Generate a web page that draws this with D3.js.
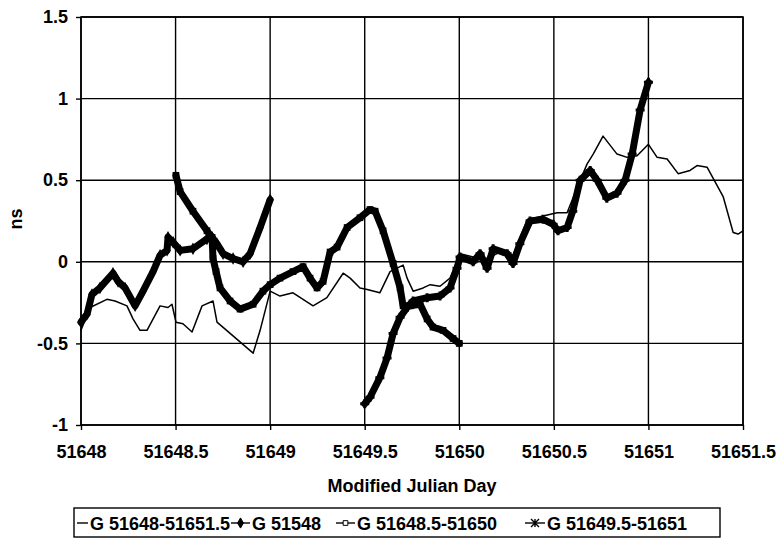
<!DOCTYPE html>
<html>
<head>
<meta charset="utf-8">
<script src="https://cdn.jsdelivr.net/npm/d3@7"></script>
<style>
  html, body { margin: 0; padding: 0; background: #fff; }
  svg { display: block; }
  text { font-family: "Liberation Sans", Arial, sans-serif; font-weight: bold; fill: #000; }
</style>
</head>
<body>
<svg id="chart" width="779" height="538"></svg>
<script>
// ---------------- data ----------------
const xTicks = [51648, 51648.5, 51649, 51649.5, 51650, 51650.5, 51651, 51651.5];
const yTicks = [-1, -0.5, 0, 0.5, 1, 1.5];
const xTickLabels = ["51648", "51648.5", "51649", "51649.5", "51650", "51650.5", "51651", "51651.5"];
const yTickLabels = ["-1", "-0.5", "0", "0.5", "1", "1.5"];
const seriesNames = ["G 51648-51651.5", "G 51548", "G 51648.5-51650", "G 51649.5-51651"];

// G 51648-51651.5 (thin line)
const s1Day = [51648.000, 51648.048, 51648.137, 51648.180, 51648.243, 51648.275, 51648.312, 51648.349, 51648.418, 51648.460,
  51648.481, 51648.502, 51648.539, 51648.587, 51648.640, 51648.698, 51648.719, 51648.910, 51648.947, 51649.000,
  51649.052, 51649.121, 51649.227, 51649.300, 51649.386, 51649.423, 51649.475, 51649.513, 51649.580, 51649.634,
  51649.703, 51649.724, 51649.756, 51649.809, 51649.846, 51649.898, 51649.951, 51650.004, 51650.073, 51650.147,
  51650.216, 51650.284, 51650.360, 51650.443, 51650.517, 51650.570, 51650.639, 51650.676, 51650.708, 51650.760,
  51650.834, 51650.887, 51650.940, 51651.000, 51651.046, 51651.099, 51651.157, 51651.220, 51651.257, 51651.310,
  51651.395, 51651.448, 51651.474, 51651.500];
const s1Ns = [-0.42, -0.28, -0.23, -0.24, -0.27, -0.35, -0.42, -0.42, -0.27, -0.28,
  -0.26, -0.37, -0.38, -0.43, -0.27, -0.24, -0.37, -0.56, -0.42, -0.18,
  -0.21, -0.19, -0.27, -0.22, -0.07, -0.10, -0.16, -0.17, -0.19, -0.06,
  -0.02, -0.10, -0.18, -0.16, -0.14, -0.15, -0.10, 0.05, 0.03, 0.02,
  0.06, 0.04, 0.26, 0.28, 0.30, 0.30, 0.50, 0.60, 0.66, 0.77,
  0.66, 0.64, 0.65, 0.72, 0.64, 0.63, 0.54, 0.56, 0.59, 0.58,
  0.40, 0.18, 0.17, 0.19];

// G 51548 (filled diamonds)
const s2Day = [51648.000, 51648.032, 51648.058, 51648.100, 51648.169, 51648.196, 51648.233, 51648.286, 51648.328, 51648.381,
  51648.418, 51648.455, 51648.460, 51648.487, 51648.524, 51648.592, 51648.666, 51648.693, 51648.719, 51648.751,
  51648.804, 51648.857, 51648.894, 51648.947, 51649.000];
const s2Ns = [-0.37, -0.32, -0.20, -0.16, -0.07, -0.12, -0.16, -0.27, -0.18, -0.06,
  0.04, 0.07, 0.15, 0.12, 0.07, 0.08, 0.14, 0.15, 0.11, 0.05,
  0.02, 0.00, 0.05, 0.21, 0.38];

// G 51648.5-51650 (open squares)
const s3Day = [51648.502, 51648.524, 51648.592, 51648.666, 51648.693, 51648.698, 51648.714, 51648.735, 51648.788, 51648.841,
  51648.910, 51648.962, 51649.000, 51649.052, 51649.121, 51649.174, 51649.211, 51649.248, 51649.280, 51649.317,
  51649.354, 51649.407, 51649.475, 51649.528, 51649.555, 51649.597, 51649.650, 51649.687, 51649.703, 51649.740,
  51649.793, 51649.830, 51649.861, 51649.914, 51649.967, 51650.000];
const s3Ns = [0.53, 0.43, 0.31, 0.19, 0.15, 0.02, -0.06, -0.16, -0.24, -0.29,
  -0.26, -0.18, -0.14, -0.10, -0.06, -0.03, -0.10, -0.16, -0.12, 0.06,
  0.09, 0.21, 0.27, 0.32, 0.31, 0.19, -0.01, -0.16, -0.27, -0.27,
  -0.26, -0.35, -0.40, -0.42, -0.47, -0.50];

// G 51649.5-51651 (stars)
const s4Day = [51649.500, 51649.528, 51649.580, 51649.618, 51649.650, 51649.687, 51649.724, 51649.756, 51649.830, 51649.898,
  51649.951, 51649.988, 51650.004, 51650.073, 51650.110, 51650.147, 51650.179, 51650.253, 51650.284, 51650.320,
  51650.374, 51650.443, 51650.496, 51650.522, 51650.570, 51650.600, 51650.639, 51650.692, 51650.729, 51650.780,
  51650.834, 51650.877, 51650.914, 51650.956, 51651.000];
const s4Ns = [-0.87, -0.83, -0.71, -0.59, -0.44, -0.34, -0.28, -0.24, -0.22, -0.21,
  -0.16, -0.04, 0.03, 0.00, 0.05, -0.04, 0.08, 0.05, -0.01, 0.11,
  0.25, 0.26, 0.23, 0.19, 0.21, 0.31, 0.50, 0.56, 0.50, 0.39,
  0.42, 0.50, 0.66, 0.93, 1.10];

// ---------------- chart ----------------
const svg = d3.select("#chart");
const L = 81, R = 743, T = 17, B = 425;
const x = d3.scaleLinear().domain([51648, 51651.5]).range([L, R]);
const y = d3.scaleLinear().domain([-1, 1.5]).range([B, T]);

svg.append("rect").attr("width", 779).attr("height", 538).attr("fill", "#fff");

// gridlines
const grid = svg.append("g").attr("stroke", "#000").attr("stroke-width", 1.4);
grid.selectAll("line.h").data(yTicks).join("line")
  .attr("x1", L).attr("x2", R).attr("y1", d => y(d)).attr("y2", d => y(d));
grid.selectAll("line.v").data(xTicks).join("line")
  .attr("y1", T).attr("y2", B).attr("x1", d => x(d)).attr("x2", d => x(d));

// series
const series = [
  { day: s1Day, ns: s1Ns, width: 1.5, sym: null },
  { day: s2Day, ns: s2Ns, width: 7, sym: d3.symbolDiamond },
  { day: s3Day, ns: s3Ns, width: 7, sym: d3.symbolSquare },
  { day: s4Day, ns: s4Ns, width: 7, sym: d3.symbolCross }
];
const line = d3.line().x(d => x(d[0])).y(d => y(d[1]));
series.forEach(s => {
  const pts = s.day.map((d, i) => [d, s.ns[i]]);
  svg.append("path").datum(pts)
    .attr("fill", "none").attr("stroke", "#000")
    .attr("stroke-width", s.width)
    .attr("stroke-linejoin", "round").attr("stroke-linecap", "round")
    .attr("d", line);
  if (s.sym) {
    svg.append("g").selectAll("path").data(pts).join("path")
      .attr("transform", d => `translate(${x(d[0])},${y(d[1])})`)
      .attr("d", d3.symbol().type(s.sym).size(45))
      .attr("fill", "#000");
  }
});

// plot border
svg.append("rect").attr("x", L).attr("y", T).attr("width", R - L).attr("height", B - T)
  .attr("fill", "none").attr("stroke", "#000").attr("stroke-width", 1.6);

// axes
const xAxis = d3.axisBottom(x).tickValues(xTicks).tickFormat((d, i) => xTickLabels[i])
  .tickSize(5).tickPadding(15);
const gx = svg.append("g").attr("transform", `translate(0,${B})`).call(xAxis);
const yAxis = d3.axisLeft(y).tickValues(yTicks).tickFormat((d, i) => yTickLabels[i])
  .tickSize(5).tickPadding(8);
const gy = svg.append("g").attr("transform", `translate(${L},0)`).call(yAxis);
[gx, gy].forEach(g => {
  g.select(".domain").remove();
  g.selectAll(".tick line").attr("stroke", "#000").attr("stroke-width", 1.4);
  g.selectAll(".tick text").style("font-family", '"Liberation Sans", Arial, sans-serif')
    .style("font-weight", "bold").style("font-size", "18px").attr("fill", "#000");
});

// axis titles
svg.append("text").attr("x", (L + R) / 2).attr("y", 492).attr("text-anchor", "middle")
  .style("font-size", "18px").text("Modified Julian Day");
svg.append("text").attr("transform", "translate(22,219) rotate(-90)").attr("text-anchor", "middle")
  .style("font-size", "18px").text("ns");

// legend
const lg = svg.append("g");
lg.append("rect").attr("x", 74).attr("y", 508).attr("width", 646).attr("height", 29)
  .attr("fill", "#fff").attr("stroke", "#000").attr("stroke-width", 1.4);
const legendItems = [
  { x0: 77, x1: 88, sym: null, fill: "#000" },
  { x0: 231, x1: 250, sym: d3.symbolDiamond, fill: "#000" },
  { x0: 336, x1: 355, sym: d3.symbolSquare, fill: "#fff" },
  { x0: 525, x1: 545, sym: d3.symbolCross, fill: "#000" }
];
const ly = 523;
legendItems.forEach((it, i) => {
  lg.append("line").attr("x1", it.x0).attr("x2", it.x1).attr("y1", ly).attr("y2", ly)
    .attr("stroke", "#000").attr("stroke-width", 1.4);
  if (it.sym) {
    const m = lg.append("path").attr("transform", `translate(${(it.x0 + it.x1) / 2},${ly})`);
    if (i === 3) {
      m.attr("d", "M-4,-4L4,4M-4,4L4,-4M0,-4L0,4").attr("stroke", "#000").attr("stroke-width", 1.4).attr("fill", "none");
    } else {
      m.attr("d", d3.symbol().type(it.sym).size(i === 1 ? 30 : 22))
        .attr("fill", it.fill).attr("stroke", "#000").attr("stroke-width", 1);
    }
  }
  lg.append("text").attr("x", it.x1 + 2).attr("y", 530).style("font-size", "18px").text(seriesNames[i]);
});
</script>
</body>
</html>
